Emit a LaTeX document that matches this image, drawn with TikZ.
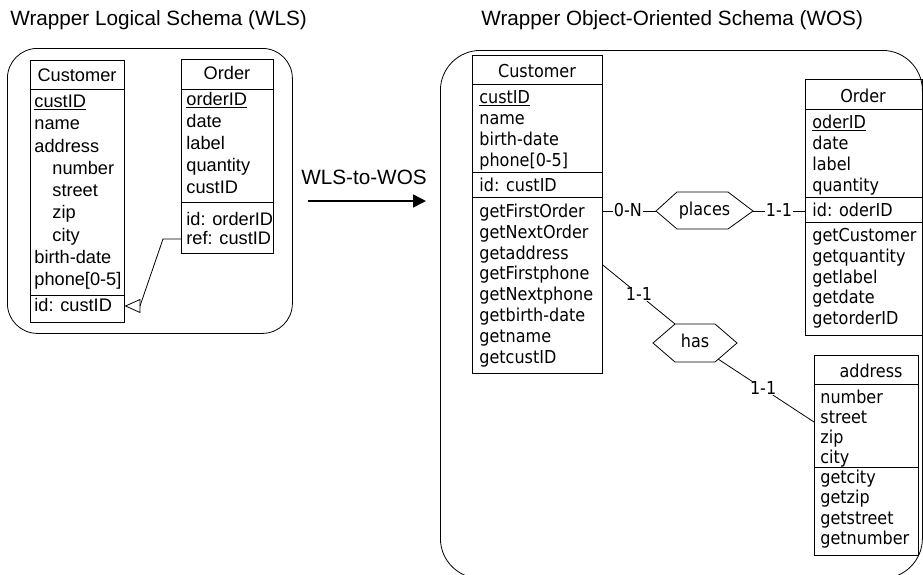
\documentclass[tikz,border=0pt]{standalone}
\usepackage{fontspec}
\newfontfamily\arf{Liberation Sans}
\newfontfamily\taf{DejaVu Sans Condensed}
\usetikzlibrary{arrows.meta}
\begin{document}
\begin{tikzpicture}[x=1pt,y=-1pt,line width=0.8pt,
  lt/.style={anchor=west,inner sep=0pt,text height=11pt,text depth=0pt,font=\arf\fontsize{18.2}{20}\selectfont},
  lh/.style={inner sep=0pt,text height=11pt,text depth=0pt,font=\arf\fontsize{18.2}{20}\selectfont},
  rt/.style={anchor=west,inner sep=0pt,text height=11pt,text depth=0pt,font=\taf\fontsize{17.8}{20}\selectfont},
  rh/.style={inner sep=0pt,text height=11pt,text depth=0pt,font=\taf\fontsize{17.8}{20}\selectfont},
  card/.style={inner sep=1pt,fill=white,text height=11pt,text depth=0pt,font=\taf\fontsize{17.8}{20}\selectfont},
  ttl/.style={anchor=west,inner sep=0pt,text height=11pt,text depth=0pt,font=\arf\fontsize{20.7}{24}\selectfont},
  tbl/.style={draw,inner sep=0pt,anchor=north west},
  frame/.style={draw,inner sep=0pt,anchor=north west}]
\useasboundingbox (0,0) rectangle (923,574);

% titles
\node[ttl] (t1) at (10,20) {Wrapper Logical Schema (WLS)};
\node[ttl] (t2) at (481,20) {Wrapper Object-Oriented Schema (WOS)};

% frames
\node[frame,rounded corners=30pt,minimum width=285pt,minimum height=285pt] (wls) at (7,48) {};
\node[frame,rounded corners=40pt,minimum width=482pt,minimum height=528pt] (wos) at (440,50) {};

% ---------- WLS Customer
\node[tbl,minimum width=94pt,minimum height=262pt] (lcust) at (30,60) {};
\draw (lcust.west |- 0,89) -- (lcust.east |- 0,89);
\draw (lcust.west |- 0,295) -- (lcust.east |- 0,295);
\node[lh] (lcusth) at (77,76) {Customer};
\foreach \t [count=\i from 0] in {{\underline{custID}},name,address} {
  \node[lt] (lc\i) at (34,102+22.25*\i) {\t};
}
\foreach \t [count=\i from 3] in {number,street,zip,city} {
  \node[lt] (lc\i) at (52,102+22.25*\i) {\t};
}
\foreach \t [count=\i from 7] in {birth-date,{phone[0-5]}} {
  \node[lt] (lc\i) at (34,102+22.25*\i) {\t};
}
\node[lt] (lcid) at (34,306) {id: custID};

% ---------- WLS Order
\node[tbl,minimum width=92pt,minimum height=194pt] (lord) at (181,59) {};
\draw (lord.west |- 0,89) -- (lord.east |- 0,89);
\draw (lord.west |- 0,202) -- (lord.east |- 0,202);
\node[lh] (lordh) at (227,74) {Order};
\foreach \t [count=\i from 0] in {{\underline{orderID}},date,label,quantity,custID} {
  \node[lt] (lo\i) at (186,100+22*\i) {\t};
}
\node[lt] (loid) at (186,220) {id: orderID};
\node[lt] (loref) at (186,239) {ref: custID};

% reference connector
\coordinate (rA) at (lord.west |- 0,239);
\coordinate (rB) at (163,239);
\coordinate (rC) at (140,306);
\coordinate (tipT) at (140,299.5);
\coordinate (tipB) at (140,312.5);
\coordinate (tipP) at (125.5,306);
\draw (rA) -- (rB) -- (rC);
\draw[line join=miter] (tipT) -- (tipP) -- (tipB) -- cycle;

% ---------- transformation arrow
\node[ttl,anchor=center] (tr) at (364,179) {WLS-to-WOS};
\coordinate (arA) at (308,201);
\coordinate (arB) at (426,201);
\draw[line width=1.6pt,-{Triangle[length=13pt,width=13pt]}] (arA) -- (arB);

% ---------- WOS Customer
\node[tbl,minimum width=130pt,minimum height=318pt] (rcust) at (472,55) {};
\draw (rcust.west |- 0,84) -- (rcust.east |- 0,84);
\draw (rcust.west |- 0,172) -- (rcust.east |- 0,172);
\draw (rcust.west |- 0,197) -- (rcust.east |- 0,197);
\node[rh] (rcusth) at (537,72) {Customer};
\foreach \t [count=\i from 0] in {{\underline{custID}},name,birth-date,{phone[0-5]}} {
  \node[rt] (rc\i) at (479,98+21*\i) {\t};
}
\node[rt] (rcid) at (479,186) {id: custID};
\foreach \t [count=\i from 0] in {getFirstOrder,getNextOrder,getaddress,getFirstphone,getNextphone,getbirth-date,getname,getcustID} {
  \node[rt] (rm\i) at (479,212+20.8*\i) {\t};
}

% ---------- WOS Order
\node[tbl,minimum width=117pt,minimum height=256pt] (rord) at (805,79) {};
\draw (rord.west |- 0,109) -- (rord.east |- 0,109);
\draw (rord.west |- 0,197) -- (rord.east |- 0,197);
\draw (rord.west |- 0,222) -- (rord.east |- 0,222);
\node[rh] (rordh) at (863,97) {Order};
\foreach \t [count=\i from 0] in {{\underline{oderID}},date,label,quantity} {
  \node[rt] (ro\i) at (812,123+21*\i) {\t};
}
\node[rt] (roid) at (812,211) {id: oderID};
\foreach \t [count=\i from 0] in {getCustomer,getquantity,getlabel,getdate,getorderID} {
  \node[rt] (rom\i) at (812,236+20.8*\i) {\t};
}

% ---------- WOS address
\node[tbl,minimum width=104pt,minimum height=200pt] (radd) at (814,355) {};
\draw (radd.west |- 0,384) -- (radd.east |- 0,384);
\draw (radd.west |- 0,467) -- (radd.east |- 0,467);
\node[rh] (raddh) at (871,372) {address};
\foreach \t [count=\i from 0] in {number,street,zip,city} {
  \node[rt] (ra\i) at (820,398+20*\i) {\t};
}
\foreach \t [count=\i from 0] in {getcity,getzip,getstreet,getnumber} {
  \node[rt] (ram\i) at (820,478+20.3*\i) {\t};
}

% ---------- places relationship
\coordinate (pL) at (656,211);
\coordinate (pTL) at (677,192);
\coordinate (pTR) at (728,192);
\coordinate (pR) at (753,211);
\coordinate (pBR) at (728,229);
\coordinate (pBL) at (677,229);
\draw[line join=miter] (pL) -- (pTL) -- (pTR) -- (pR) -- (pBR) -- (pBL) -- cycle;
\node[rh] (places) at (704.5,210) {places};
\draw (rcust.east |- pL) -- (pL) node[card,pos=0.47] (c0N) {0-N};
\draw (pR) -- (rord.west |- pR) node[card,pos=0.5] (c11a) {1-1};

% ---------- has relationship
\coordinate (hL) at (653,343);
\coordinate (hTL) at (675,324);
\coordinate (hTR) at (715,324);
\coordinate (hR) at (737,343);
\coordinate (hBR) at (715,362);
\coordinate (hBL) at (675,362);
\draw[line join=miter] (hL) -- (hTL) -- (hTR) -- (hR) -- (hBR) -- (hBL) -- cycle;
\node[rh] (has) at (695,342) {has};
\coordinate (cA) at (rcust.east |- 0,265);
\draw (cA) -- (hTL) node[card,pos=0.5] (c11b) {1-1};
\coordinate (hS) at (718,359);
\coordinate (aA) at (radd.west |- 0,422);
\draw (hS) -- (aA) node[card,pos=0.47] (c11c) {1-1};
\end{tikzpicture}
\end{document}
